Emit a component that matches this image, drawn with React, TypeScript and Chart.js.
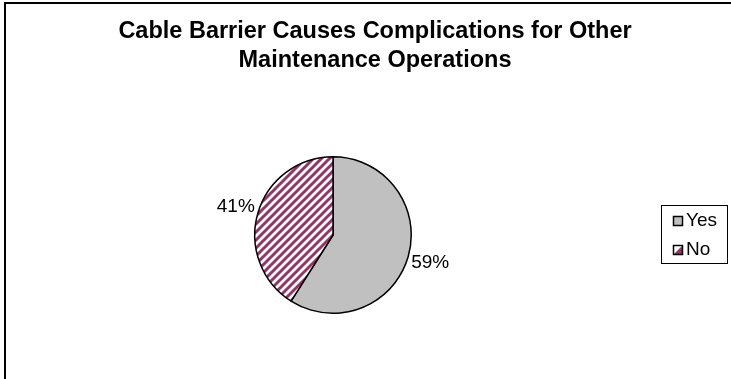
import React, { useEffect, useRef } from "react";
import { Chart, registerables } from "chart.js";

Chart.register(...registerables);

const categories = ["Yes", "No"];
const values = [59, 41];
const percentLabels = ["59%", "41%"];
const titleLines = ["Cable Barrier Causes Complications for Other", "Maintenance Operations"];

const W = 731;
const H = 379;
const FONT = '"Liberation Sans", Arial, Helvetica, sans-serif';
const HATCH_COLOR = "#993366";
const GRAY = "#C0C0C0";

function makeHatch(): CanvasPattern | string {
  const c = document.createElement("canvas");
  c.width = 8;
  c.height = 8;
  const g = c.getContext("2d");
  if (!g) return HATCH_COLOR;
  g.fillStyle = "#ffffff";
  g.fillRect(0, 0, 8, 8);
  g.strokeStyle = HATCH_COLOR;
  g.lineWidth = 3;
  g.beginPath();
  g.moveTo(-2, 10);
  g.lineTo(10, -2);
  g.moveTo(-6, 6);
  g.lineTo(6, -6);
  g.moveTo(2, 14);
  g.lineTo(14, 2);
  g.stroke();
  return g.createPattern(c, "repeat") || HATCH_COLOR;
}

const decorPlugin = {
  id: "decor",
  afterDraw(chart: any) {
    const ctx: CanvasRenderingContext2D = chart.ctx;
    ctx.save();
    // frame (top and left edges visible)
    ctx.strokeStyle = "#000";
    ctx.lineWidth = 2;
    ctx.beginPath();
    ctx.moveTo(5, H);
    ctx.lineTo(5, 3);
    ctx.lineTo(W, 3);
    ctx.stroke();

    // title
    ctx.fillStyle = "#000";
    ctx.textAlign = "center";
    ctx.textBaseline = "middle";
    ctx.font = `bold 23.5px ${FONT}`;
    ctx.fillText(titleLines[0], 375, 32);
    ctx.fillText(titleLines[1], 375, 61);

    // percentage labels
    ctx.font = `19px ${FONT}`;
    const meta = chart.getDatasetMeta(0);
    meta.data.forEach((arc: any, i: number) => {
      const p = arc.getProps(["x", "y", "startAngle", "endAngle", "outerRadius"], true);
      const mid = (p.startAngle + p.endAngle) / 2;
      const r = p.outerRadius + 23;
      ctx.fillText(percentLabels[i], p.x + Math.cos(mid) * r, p.y + Math.sin(mid) * r);
    });

    // legend
    ctx.lineWidth = 1;
    ctx.strokeStyle = "#000";
    ctx.strokeRect(661.5, 205.5, 66, 58);
    const ds = chart.data.datasets[0];
    const rowsY = [221, 250];
    categories.forEach((name, i) => {
      const y = rowsY[i];
      const x0 = 673.5;
      const y0 = y - 4.5;
      if (i === 0) {
        ctx.fillStyle = ds.backgroundColor[i];
        ctx.fillRect(x0, y0, 9, 9);
      } else {
        ctx.fillStyle = "#fff";
        ctx.fillRect(x0, y0, 9, 9);
        ctx.fillStyle = HATCH_COLOR;
        ctx.beginPath();
        ctx.moveTo(x0 + 9, y0);
        ctx.lineTo(x0 + 9, y0 + 9);
        ctx.lineTo(x0, y0 + 9);
        ctx.closePath();
        ctx.fill();
      }
      ctx.lineWidth = 1.5;
      ctx.strokeRect(x0, y0, 9, 9);
      ctx.fillStyle = "#000";
      ctx.textAlign = "left";
      ctx.font = `19px ${FONT}`;
      ctx.fillText(name, 686, y);
    });
    ctx.restore();
  },
};

export default function App() {
  const ref = useRef<HTMLCanvasElement | null>(null);
  useEffect(() => {
    if (!ref.current) return;
    const hatch = makeHatch();
    const chart = new Chart(ref.current, {
      type: "pie",
      data: {
        labels: categories,
        datasets: [
          {
            data: values,
            backgroundColor: [GRAY, hatch as any],
            borderColor: "#000",
            borderWidth: 1.5,
          },
        ],
      },
      options: {
        responsive: false,
        animation: false,
        layout: { padding: { left: 254, right: 319, top: 156, bottom: 65 } },
        plugins: {
          legend: { display: false },
          title: { display: false },
          tooltip: { enabled: false },
        },
      },
      plugins: [decorPlugin],
    });
    return () => chart.destroy();
  }, []);
  return (
    <div style={{ position: "absolute", left: 0, top: 0, width: W, height: H, background: "#fff" }}>
      <canvas ref={ref} width={W} height={H} style={{ display: "block" }} />
    </div>
  );
}
